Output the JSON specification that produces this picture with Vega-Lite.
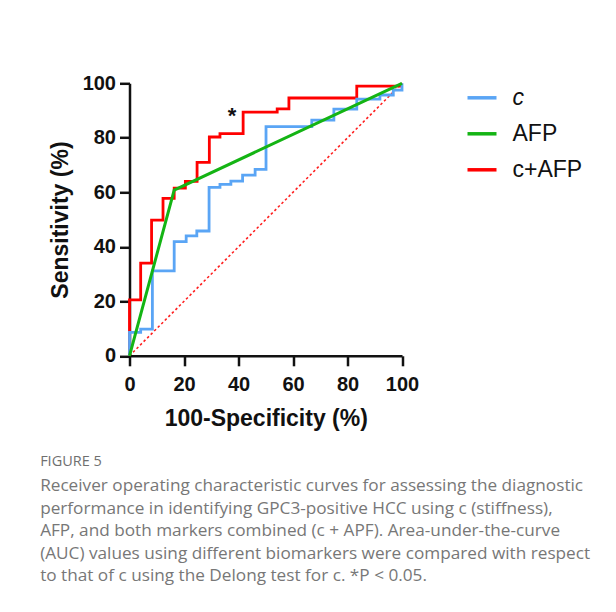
{
  "$schema": "https://vega.github.io/schema/vega-lite/v6.json",
  "width": 272.5,
  "height": 272.5,
  "autosize": {"type": "none"},
  "padding": {"left": 129.5, "top": 83.3, "right": 214, "bottom": 256.2},
  "background": "white",
  "config": {
    "view": {"stroke": null},
    "font": "Liberation Sans",
    "axis": {
      "domainColor": "#111111", "domainWidth": 2.5, "tickColor": "#111111", "tickWidth": 2.5, "tickSize": 10,
      "labelFont": "Liberation Sans", "labelFontWeight": "bold", "labelFontSize": 20, "labelColor": "#111111",
      "titleFont": "Liberation Sans", "titleFontWeight": "bold", "titleFontSize": 23, "titleColor": "#111111",
      "grid": false, "labelFlush": false, "labelOverlap": false
    }
  },
  "title": {
    "text": "FIGURE 5",
    "subtitle": [
      "Receiver operating characteristic curves for assessing the diagnostic",
      "performance in identifying GPC3-positive HCC using c (stiffness),",
      "AFP, and both markers combined (c + APF). Area-under-the-curve",
      "(AUC) values using different biomarkers were compared with respect",
      "to that of c using the Delong test for c. *P < 0.05."
    ],
    "orient": "bottom", "anchor": "start", "frame": "bounds", "offset": 24, "dx": -9,
    "font": "Open Sans", "fontSize": 14.5, "fontWeight": "normal", "color": "#6f6f6f",
    "subtitleFont": "Open Sans", "subtitleFontSize": 17.2, "subtitleColor": "#777777", "subtitleLineHeight": 22.5, "subtitlePadding": 8
  },
  "datasets": {
    "curves": [
      {"s": "c+AFP", "i": 1, "x": 0, "y": 0},
      {"s": "c+AFP", "i": 2, "x": 0, "y": 20.5},
      {"s": "c+AFP", "i": 3, "x": 4.1, "y": 20.5},
      {"s": "c+AFP", "i": 4, "x": 4.1, "y": 34},
      {"s": "c+AFP", "i": 5, "x": 8.1, "y": 34},
      {"s": "c+AFP", "i": 6, "x": 8.1, "y": 49.8},
      {"s": "c+AFP", "i": 7, "x": 12.3, "y": 49.8},
      {"s": "c+AFP", "i": 8, "x": 12.3, "y": 57.8},
      {"s": "c+AFP", "i": 9, "x": 16.4, "y": 57.8},
      {"s": "c+AFP", "i": 10, "x": 16.4, "y": 61.5},
      {"s": "c+AFP", "i": 11, "x": 20.5, "y": 61.5},
      {"s": "c+AFP", "i": 12, "x": 20.5, "y": 64},
      {"s": "c+AFP", "i": 13, "x": 24.8, "y": 64},
      {"s": "c+AFP", "i": 14, "x": 24.8, "y": 71},
      {"s": "c+AFP", "i": 15, "x": 29.3, "y": 71},
      {"s": "c+AFP", "i": 16, "x": 29.3, "y": 80.3},
      {"s": "c+AFP", "i": 17, "x": 33.2, "y": 80.3},
      {"s": "c+AFP", "i": 18, "x": 33.2, "y": 81.5},
      {"s": "c+AFP", "i": 19, "x": 41.7, "y": 81.5},
      {"s": "c+AFP", "i": 20, "x": 41.7, "y": 89.4},
      {"s": "c+AFP", "i": 21, "x": 54.2, "y": 89.4},
      {"s": "c+AFP", "i": 22, "x": 54.2, "y": 90.6},
      {"s": "c+AFP", "i": 23, "x": 58.5, "y": 90.6},
      {"s": "c+AFP", "i": 24, "x": 58.5, "y": 94.6},
      {"s": "c+AFP", "i": 25, "x": 83.4, "y": 94.6},
      {"s": "c+AFP", "i": 26, "x": 83.4, "y": 99},
      {"s": "c+AFP", "i": 27, "x": 99.3, "y": 99},
      {"s": "c+AFP", "i": 28, "x": 100, "y": 100},
      {"s": "c", "i": 1, "x": 0, "y": 0},
      {"s": "c", "i": 2, "x": 0, "y": 8.6},
      {"s": "c", "i": 3, "x": 4.1, "y": 8.6},
      {"s": "c", "i": 4, "x": 4.1, "y": 9.8},
      {"s": "c", "i": 5, "x": 8.4, "y": 9.8},
      {"s": "c", "i": 6, "x": 8.4, "y": 31.2},
      {"s": "c", "i": 7, "x": 16.4, "y": 31.2},
      {"s": "c", "i": 8, "x": 16.4, "y": 41.9},
      {"s": "c", "i": 9, "x": 20.8, "y": 41.9},
      {"s": "c", "i": 10, "x": 20.8, "y": 44},
      {"s": "c", "i": 11, "x": 24.7, "y": 44},
      {"s": "c", "i": 12, "x": 24.7, "y": 45.8},
      {"s": "c", "i": 13, "x": 29.2, "y": 45.8},
      {"s": "c", "i": 14, "x": 29.2, "y": 61.8},
      {"s": "c", "i": 15, "x": 33.2, "y": 61.8},
      {"s": "c", "i": 16, "x": 33.2, "y": 62.9},
      {"s": "c", "i": 17, "x": 37.2, "y": 62.9},
      {"s": "c", "i": 18, "x": 37.2, "y": 64.1},
      {"s": "c", "i": 19, "x": 41.5, "y": 64.1},
      {"s": "c", "i": 20, "x": 41.5, "y": 66.3},
      {"s": "c", "i": 21, "x": 46.1, "y": 66.3},
      {"s": "c", "i": 22, "x": 46.1, "y": 68.4},
      {"s": "c", "i": 23, "x": 50.1, "y": 68.4},
      {"s": "c", "i": 24, "x": 50.1, "y": 84.1},
      {"s": "c", "i": 25, "x": 66.9, "y": 84.1},
      {"s": "c", "i": 26, "x": 66.9, "y": 86.5},
      {"s": "c", "i": 27, "x": 75, "y": 86.5},
      {"s": "c", "i": 28, "x": 75, "y": 90.5},
      {"s": "c", "i": 29, "x": 83.4, "y": 90.5},
      {"s": "c", "i": 30, "x": 83.4, "y": 94.2},
      {"s": "c", "i": 31, "x": 91.9, "y": 94.2},
      {"s": "c", "i": 32, "x": 91.9, "y": 95.7},
      {"s": "c", "i": 33, "x": 96.8, "y": 95.7},
      {"s": "c", "i": 34, "x": 96.8, "y": 97.5},
      {"s": "c", "i": 35, "x": 100, "y": 97.5},
      {"s": "c", "i": 36, "x": 100, "y": 100},
      {"s": "AFP", "i": 1, "x": 0, "y": 0},
      {"s": "AFP", "i": 2, "x": 16.4, "y": 60.8},
      {"s": "AFP", "i": 3, "x": 100, "y": 100}
    ]
  },
  "layer": [
    {
      "data": {"values": [{"x": 0, "y": 0}, {"x": 100, "y": 100}]},
      "mark": {"type": "line", "color": "#ff2020", "strokeWidth": 1.6, "strokeDash": [2.5, 2.5]},
      "encoding": {
        "x": {"field": "x", "type": "quantitative", "scale": {"domain": [0, 100], "nice": false, "zero": false},
              "axis": {"values": [0, 20, 40, 60, 80, 100], "title": "100-Specificity (%)", "labelPadding": 9, "titlePadding": 13}},
        "y": {"field": "y", "type": "quantitative", "scale": {"domain": [0, 100], "nice": false, "zero": false},
              "axis": {"values": [0, 20, 40, 60, 80, 100], "title": "Sensitivity (%)", "labelPadding": 4, "titlePadding": 10}}
      }
    },
    {
      "data": {"name": "curves"},
      "transform": [{"filter": "datum.s === 'c+AFP'"}],
      "mark": {"type": "line", "strokeWidth": 2.8},
      "encoding": {
        "x": {"field": "x", "type": "quantitative"},
        "y": {"field": "y", "type": "quantitative"},
        "order": {"field": "i", "type": "quantitative"},
        "color": {"field": "s", "type": "nominal",
          "scale": {"domain": ["c", "AFP", "c+AFP"], "range": ["#5aa5f5", "#14b414", "#ff0000"]},
          "legend": {"orient": "none", "legendX": 336, "legendY": -2, "title": null, "symbolType": "stroke",
            "symbolSize": 841, "symbolStrokeWidth": 3.5, "labelFont": "Liberation Sans", "labelFontSize": 23,
            "labelColor": "#111111", "labelOffset": 14, "rowPadding": 7, "padding": 0,
            "encode": {"labels": {"update": {"fontStyle": {"signal": "datum.value === 'c' ? 'italic' : 'normal'"}}}}}}
      }
    },
    {
      "data": {"name": "curves"},
      "transform": [{"filter": "datum.s === 'c'"}],
      "mark": {"type": "line", "strokeWidth": 2.8},
      "encoding": {
        "x": {"field": "x", "type": "quantitative"},
        "y": {"field": "y", "type": "quantitative"},
        "order": {"field": "i", "type": "quantitative"},
        "color": {"field": "s", "type": "nominal"}
      }
    },
    {
      "data": {"name": "curves"},
      "transform": [{"filter": "datum.s === 'AFP'"}],
      "mark": {"type": "line", "strokeWidth": 3},
      "encoding": {
        "x": {"field": "x", "type": "quantitative"},
        "y": {"field": "y", "type": "quantitative"},
        "order": {"field": "i", "type": "quantitative"},
        "color": {"field": "s", "type": "nominal"}
      }
    },
    {
      "data": {"values": [{"x": 37.6, "y": 88.1, "t": "*"}]},
      "mark": {"type": "text", "font": "Liberation Sans", "fontWeight": "bold", "fontSize": 22, "color": "#111111", "baseline": "middle", "align": "center"},
      "encoding": {
        "x": {"field": "x", "type": "quantitative"},
        "y": {"field": "y", "type": "quantitative"},
        "text": {"field": "t"}
      }
    }
  ]
}
